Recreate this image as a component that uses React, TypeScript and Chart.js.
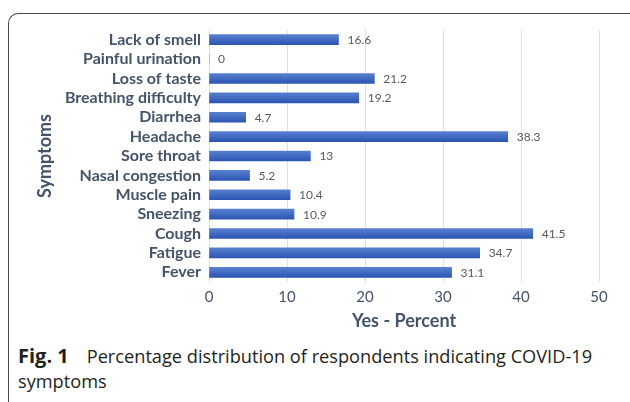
import React, { useEffect, useRef } from "react";
import { Chart, registerables } from "chart.js";

Chart.register(...registerables);

const categories = [
  "Lack of smell",
  "Painful urination",
  "Loss of taste",
  "Breathing difficulty",
  "Diarrhea",
  "Headache",
  "Sore throat",
  "Nasal congestion",
  "Muscle pain",
  "Sneezing",
  "Cough",
  "Fatigue",
  "Fever",
];
const yesPercent = [16.6, 0, 21.2, 19.2, 4.7, 38.3, 13, 5.2, 10.4, 10.9, 41.5, 34.7, 31.1];
const xTicks = [0, 10, 20, 30, 40, 50];
const yTitle = "Symptoms";
const xTitle = "Yes - Percent";

const AXIS_TEXT = "#44546A";

const valueLabels = {
  id: "valueLabels",
  afterDatasetsDraw(chart: any) {
    const ctx = chart.ctx;
    const meta = chart.getDatasetMeta(0);
    ctx.save();
    ctx.font = "12px Lato";
    ctx.fillStyle = "#595959";
    ctx.textAlign = "left";
    ctx.textBaseline = "middle";
    meta.data.forEach((el: any, i: number) => {
      ctx.fillText(String(yesPercent[i]), el.x + 9, el.y + 0.5);
    });
    ctx.restore();
  },
};

export default function App() {
  const ref = useRef<HTMLCanvasElement>(null);

  useEffect(() => {
    if (!ref.current) return;
    Chart.defaults.font.family = "Lato";
    const chart = new Chart(ref.current, {
      type: "bar",
      data: {
        labels: categories,
        datasets: [
          {
            data: yesPercent,
            barThickness: 10,
            backgroundColor: (c: any) => {
              const ch = c.chart;
              const ys = ch.scales && ch.scales.y;
              if (!ys || c.dataIndex === undefined) return "#3A64C0";
              const yc = ys.getPixelForValue(c.dataIndex);
              if (!Number.isFinite(yc)) return "#3A64C0";
              const g = ch.ctx.createLinearGradient(0, yc - 5, 0, yc + 5);
              g.addColorStop(0, "#5880D0");
              g.addColorStop(1, "#2B55B2");
              return g;
            },
            borderWidth: 0,
          },
        ],
      },
      options: {
        indexAxis: "y",
        responsive: false,
        animation: false,
        layout: { padding: { top: 30, right: 31, left: 0, bottom: 0 } },
        plugins: {
          legend: { display: false },
          tooltip: { enabled: false },
        },
        scales: {
          x: {
            min: 0,
            max: 50,
            afterFit: (s: any) => {
              s.height = 58;
            },
            afterBuildTicks: (s: any) => {
              s.ticks = xTicks.map((v) => ({ value: v }));
            },
            grid: { color: "#D9E1EC", lineWidth: 1, drawTicks: false },
            border: { display: false },
            ticks: {
              color: AXIS_TEXT,
              padding: 6,
              font: { size: 15 },
            },
            title: {
              display: true,
              text: xTitle,
              color: AXIS_TEXT,
              font: { size: 18, weight: "bold" },
              padding: { top: 0, bottom: 8 },
            },
          },
          y: {
            afterFit: (s: any) => {
              s.width = 209;
            },
            grid: { display: false, drawTicks: false },
            border: { display: false },
            ticks: {
              color: AXIS_TEXT,
              padding: 8,
              autoSkip: false,
              font: { size: 16, weight: "bold" },
            },
            title: {
              display: true,
              text: yTitle,
              color: AXIS_TEXT,
              font: { size: 18, weight: "bold" },
              padding: { top: 34, bottom: 0 },
            },
          },
        },
      },
      plugins: [valueLabels],
    } as any);
    return () => chart.destroy();
  }, []);

  return (
    <div
      style={{
        position: "fixed",
        left: 0,
        top: 0,
        width: 630,
        height: 402,
        background: "#fff",
        overflow: "hidden",
      }}
    >
      <div
        style={{
          position: "absolute",
          left: 8,
          top: 13,
          width: 640,
          height: 420,
          borderTop: "1.5px solid #4a4a4a",
          borderLeft: "1.5px solid #4a4a4a",
          borderTopLeftRadius: 10,
          boxSizing: "border-box",
        }}
      />
      <canvas
        ref={ref}
        width={630}
        height={340}
        style={{ position: "absolute", left: 0, top: 0, width: 630, height: 340 }}
      />
      <div
        style={{
          position: "absolute",
          left: 18,
          top: 343,
          width: 612,
          fontFamily: "'Open Sans', sans-serif",
          fontSize: 18.2,
          lineHeight: "25px",
          color: "#231f20",
          whiteSpace: "nowrap",
        }}
      >
        <span style={{ fontWeight: "bold", fontSize: 20, marginRight: 18 }}>Fig. 1</span>
        Percentage distribution of respondents indicating COVID-19
        <br />
        symptoms
      </div>
    </div>
  );
}
